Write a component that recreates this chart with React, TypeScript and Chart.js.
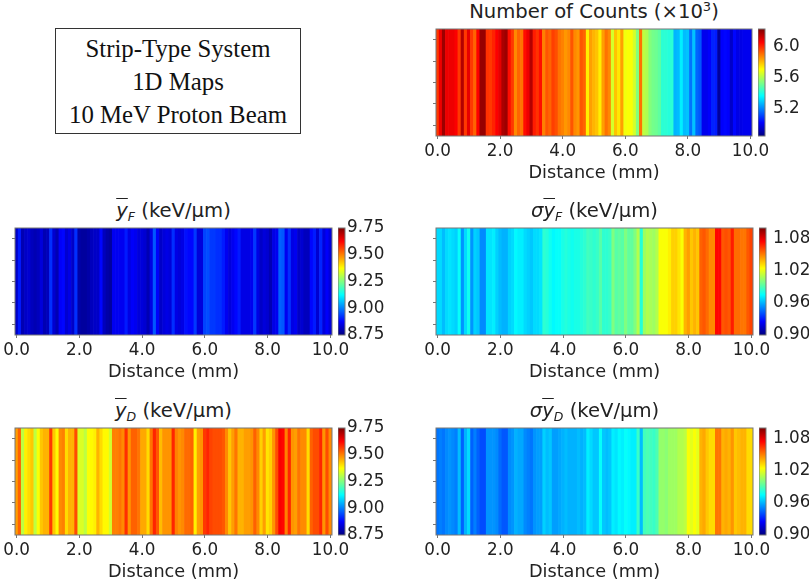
import { Chart, registerables } from 'chart.js';
import { useEffect, useRef } from 'react';

Chart.register(...registerables);

// bin centres along the strip, 0.1 mm apart
const distance = Array.from({ length: 101 }, (_, i) => (i / 10).toFixed(1));
const distanceTicks = ['0.0', '2.0', '4.0', '6.0', '8.0', '10.0'];
const rowTicks = [0.1, 0.3, 0.5, 0.7, 0.9];

const counts = [
  5.98, 6.08, 6.19, 6.08, 6.08, 6.08, 6.06, 5.98, 6.16, 5.98,
  6.09, 5.98, 5.92, 6.06, 6.2, 6.2, 5.99, 5.98, 6.01, 6.06,
  6.09, 6.17, 6.19, 6.04, 5.98, 5.87, 5.92, 5.9, 6.04, 6.08,
  6.16, 6.02, 5.99, 6.04, 5.88, 5.94, 5.92, 5.97, 5.95, 5.9,
  5.88, 5.85, 5.87, 5.94, 5.87, 5.85, 5.94, 5.92, 5.73, 5.84,
  5.81, 5.79, 5.73, 5.84, 5.9, 5.87, 5.65, 5.79, 5.74, 5.84,
  5.69, 5.7, 5.7, 5.65, 5.54, 5.9, 5.62, 5.6, 5.54, 5.52,
  5.51, 5.49, 5.42, 5.42, 5.41, 5.42, 5.26, 5.27, 5.34, 5.27,
  5.28, 5.17, 5.28, 5.15, 5.13, 4.99, 4.99, 5.01, 5.06, 5.05,
  4.88, 5.01, 5.02, 5.01, 4.94, 5.02, 4.98, 4.98, 4.99, 4.99, 4.99,
];
const yF = [
  8.82, 8.9, 8.8, 8.82, 8.83, 8.81, 8.8, 8.81, 8.84, 8.8,
  8.81, 8.92, 8.83, 8.8, 8.87, 8.88, 8.83, 8.85, 8.82, 8.92,
  8.79, 8.78, 8.78, 8.79, 8.81, 8.82, 8.82, 8.88, 8.81, 8.79,
  8.78, 8.86, 8.86, 8.86, 8.86, 8.9, 8.85, 8.87, 8.86, 8.84,
  8.84, 8.83, 8.8, 8.85, 8.96, 8.87, 8.82, 8.84, 8.85, 8.84,
  8.92, 8.85, 8.84, 8.85, 8.89, 8.88, 8.88, 8.93, 8.84, 8.84,
  8.94, 8.95, 8.93, 8.93, 8.92, 8.92, 8.9, 8.86, 8.84, 8.86,
  8.88, 8.9, 8.85, 8.85, 8.85, 8.86, 8.93, 8.85, 8.82, 8.84,
  8.83, 8.8, 8.85, 8.86, 8.97, 8.96, 8.86, 8.92, 8.85, 8.86,
  8.82, 8.83, 8.81, 8.81, 8.88, 8.9, 8.83, 8.91, 8.84, 8.87, 8.84,
];
const yD = [
  9.47, 9.53, 9.31, 9.39, 9.41, 9.43, 9.31, 9.37, 9.43, 9.45,
  9.45, 9.57, 9.43, 9.38, 9.49, 9.5, 9.41, 9.45, 9.45, 9.55,
  9.34, 9.34, 9.31, 9.37, 9.38, 9.39, 9.45, 9.41, 9.38, 9.38,
  9.33, 9.5, 9.5, 9.51, 9.49, 9.58, 9.48, 9.53, 9.53, 9.51,
  9.46, 9.46, 9.41, 9.51, 9.59, 9.54, 9.44, 9.48, 9.48, 9.48,
  9.59, 9.5, 9.48, 9.49, 9.52, 9.52, 9.53, 9.39, 9.47, 9.48,
  9.57, 9.59, 9.56, 9.55, 9.55, 9.55, 9.54, 9.49, 9.43, 9.47,
  9.51, 9.45, 9.45, 9.47, 9.47, 9.48, 9.53, 9.49, 9.42, 9.47,
  9.4, 9.42, 9.48, 9.55, 9.63, 9.62, 9.5, 9.59, 9.48, 9.47,
  9.51, 9.49, 9.49, 9.41, 9.53, 9.55, 9.55, 9.59, 9.48, 9.55, 9.49,
];
const sigmaF = [
  0.968, 0.968, 0.962, 0.968, 0.97, 0.968, 0.966, 0.976, 0.954, 0.968,
  0.978, 0.954, 0.966, 0.964, 0.952, 0.952, 0.97, 0.97, 0.972, 0.966,
  0.962, 0.96, 0.96, 0.966, 0.968, 0.974, 0.972, 0.972, 0.968, 0.966,
  0.964, 0.968, 0.968, 0.97, 0.984, 0.982, 0.978, 0.974, 0.976, 0.976,
  0.98, 0.982, 0.98, 0.978, 0.98, 0.98, 0.982, 0.984, 0.988, 0.986,
  0.984, 0.986, 0.992, 0.984, 0.984, 0.986, 1.0, 0.992, 0.994, 0.992,
  1.0, 0.994, 0.994, 1.0, 1.01, 0.982, 1.006, 1.01, 1.008, 1.006,
  1.01, 1.024, 1.024, 1.024, 1.028, 1.034, 1.034, 1.03, 1.024, 1.04,
  1.044, 1.036, 1.04, 1.036, 1.056, 1.058, 1.054, 1.048, 1.048, 1.074,
  1.074, 1.058, 1.06, 1.058, 1.07, 1.054, 1.054, 1.052, 1.052, 1.058, 1.062,
];
const sigmaD = [
  0.948, 0.95, 0.948, 0.952, 0.954, 0.952, 0.95, 0.962, 0.944, 0.96,
  0.968, 0.944, 0.95, 0.944, 0.94, 0.94, 0.954, 0.954, 0.954, 0.952,
  0.946, 0.942, 0.942, 0.952, 0.954, 0.96, 0.958, 0.958, 0.952, 0.95,
  0.948, 0.954, 0.956, 0.956, 0.966, 0.962, 0.964, 0.956, 0.956, 0.958,
  0.96, 0.962, 0.96, 0.96, 0.96, 0.962, 0.96, 0.962, 0.972, 0.968,
  0.964, 0.964, 0.976, 0.964, 0.962, 0.964, 0.972, 0.97, 0.974, 0.972,
  0.976, 0.974, 0.972, 0.972, 0.986, 0.962, 0.988, 0.99, 0.988, 0.986,
  0.99, 1.004, 1.004, 1.002, 1.006, 1.006, 1.006, 1.01, 1.01, 1.012,
  1.024, 1.02, 1.024, 1.02, 1.04, 1.042, 1.036, 1.032, 1.032, 1.052,
  1.052, 1.04, 1.042, 1.04, 1.046, 1.036, 1.038, 1.04, 1.04, 1.032, 1.032,
];

const countsTicks = [5.2, 5.6, 6.0];
const meanTicks = [8.75, 9.0, 9.25, 9.5, 9.75];
const sigmaTicks = [0.9, 0.96, 1.02, 1.08];

const FONT = '"DejaVu Sans"';
const INK = '#222';
const SPINE = '#777';
const SOFT = 'blur(0.4px)'; // the source is a resampled raster

// matplotlib's jet, as its usual piecewise ramps
const ramp = (t: number) => Math.round(255 * Math.min(1, Math.max(0, t)));
const jet = (t: number) => {
  const r = ramp(Math.min(4 * t - 1.5, -4 * t + 4.5));
  const g = ramp(Math.min(4 * t - 0.5, -4 * t + 3.5));
  const b = ramp(Math.min(4 * t + 0.5, -4 * t + 2.5));
  return `rgb(${r},${g},${b})`;
};

const frame = {
  id: 'frame',
  afterDraw(chart: Chart) {
    const { ctx, chartArea: a } = chart;
    ctx.save();
    ctx.strokeStyle = SPINE;
    ctx.lineWidth = 1;
    ctx.strokeRect(a.left, a.top, a.right - a.left, a.bottom - a.top);
    ctx.restore();
  },
};

type PanelProps = {
  title: React.ReactNode;
  values: number[];
  vmin: number;
  vmax: number;
  ticks: number[];
  digits: number;
  left: number;
  top: number;
  width: number;
  barLeft: number;
  titleTop: number;
  labelGap: number;
};

const HEIGHT = 107;
const AXIS_HEIGHT = 48;

function Strip({ values, vmin, vmax, left, top, width }: PanelProps) {
  const ref = useRef<HTMLCanvasElement>(null);

  useEffect(() => {
    if (!ref.current) return;
    const chart = new Chart(ref.current, {
      type: 'bar',
      data: {
        labels: distance,
        datasets: [
          {
            data: values.map(() => 1),
            backgroundColor: values.map((v) => jet((v - vmin) / (vmax - vmin))),
            borderWidth: 0,
            barPercentage: 1,
            categoryPercentage: 1,
          },
        ],
      },
      options: {
        animation: false,
        responsive: false,
        layout: { autoPadding: false, padding: { top: 2, right: 30 } },
        plugins: { legend: { display: false }, tooltip: { enabled: false } },
        scales: {
          x: {
            afterFit: (s) => {
              s.height = AXIS_HEIGHT;
            },
            afterBuildTicks: (s) => {
              s.ticks = distanceTicks.map((label) => ({ value: distance.indexOf(label) }));
            },
            grid: { display: true, drawOnChartArea: false, offset: false, color: SPINE, tickLength: 3 },
            border: { display: false },
            ticks: {
              autoSkip: false,
              maxRotation: 0,
              padding: 3,
              color: INK,
              font: { family: FONT, size: 16.8 },
            },
            title: {
              display: true,
              text: 'Distance (mm)',
              color: INK,
              padding: { top: 1, bottom: 0 },
              font: { family: FONT, size: 17.7 },
            },
          },
          y: {
            min: 0,
            max: 1,
            afterFit: (s) => {
              s.width = 30;
            },
            afterBuildTicks: (s) => {
              s.ticks = rowTicks.map((value) => ({ value }));
            },
            grid: { display: true, drawOnChartArea: false, color: SPINE, tickLength: 3 },
            border: { display: false },
            ticks: { display: false },
          },
        },
      },
      plugins: [frame],
    });
    return () => chart.destroy();
  }, [values, vmin, vmax]);

  return (
    <canvas
      ref={ref}
      width={width + 60}
      height={HEIGHT + 2 + AXIS_HEIGHT}
      style={{ position: 'absolute', left: left - 30, top: top - 2, filter: SOFT }}
    />
  );
}

function ColorBar({ vmin, vmax, ticks, digits, top, barLeft, labelGap }: PanelProps) {
  const ref = useRef<HTMLCanvasElement>(null);

  useEffect(() => {
    if (!ref.current) return;
    const chart = new Chart(ref.current, {
      type: 'bar',
      data: {
        labels: ['scale'],
        datasets: [
          {
            data: [[vmin, vmax]],
            borderWidth: 0,
            barPercentage: 1,
            categoryPercentage: 1,
            backgroundColor: (c: any) => {
              const a = c.chart.chartArea;
              if (!a) return 'transparent';
              const g = c.chart.ctx.createLinearGradient(0, a.bottom, 0, a.top);
              for (let i = 0; i <= 32; i++) g.addColorStop(i / 32, jet(i / 32));
              return g;
            },
          },
        ],
      },
      options: {
        animation: false,
        responsive: false,
        layout: { autoPadding: false, padding: { top: 12, bottom: 12 } },
        plugins: { legend: { display: false }, tooltip: { enabled: false } },
        scales: {
          x: { display: false },
          y: {
            position: 'right',
            min: vmin,
            max: vmax,
            afterFit: (s) => {
              s.width = 100;
            },
            afterBuildTicks: (s) => {
              s.ticks = ticks.map((value) => ({ value }));
            },
            // the gap to the labels comes from an invisible tick mark
            grid: { display: true, drawOnChartArea: false, color: 'transparent', tickLength: labelGap - 1 },
            border: { display: false },
            ticks: {
              padding: 1,
              color: INK,
              font: { family: FONT, size: 16.8 },
              callback: (v) => Number(v).toFixed(digits),
            },
          },
        },
      },
      plugins: [frame],
    });
    return () => chart.destroy();
  }, [vmin, vmax, ticks, digits, labelGap]);

  return (
    <canvas
      ref={ref}
      width={107}
      height={HEIGHT + 24}
      style={{ position: 'absolute', left: barLeft, top: top - 12, filter: SOFT }}
    />
  );
}

function Panel(props: PanelProps) {
  const { title, left, width, titleTop } = props;
  return (
    <>
      <div
        style={{
          position: 'absolute',
          left,
          width,
          top: titleTop,
          textAlign: 'center',
          fontFamily: FONT,
          fontSize: 19.6,
          lineHeight: '22px',
          color: INK,
          whiteSpace: 'nowrap',
        }}
      >
        {title}
      </div>
      <Strip {...props} />
      <ColorBar {...props} />
    </>
  );
}

const subStyle = { fontSize: 12.5, fontStyle: 'italic', position: 'relative', top: 4 } as const;
const barY = { fontStyle: 'italic', textDecoration: 'overline' } as const;

const MeanTitle = ({ sub, sigma }: { sub: string; sigma?: boolean }) => (
  <>
    {sigma && <span style={{ fontStyle: 'italic' }}>σ</span>}
    <span style={barY}>y</span>
    <span style={subStyle}>{sub}</span> (keV/µm)
  </>
);

export default function App() {
  return (
    <div style={{ position: 'absolute', left: 0, top: 0, width: 809, height: 582, overflow: 'hidden', background: '#fff' }}>
      <div
        style={{
          position: 'absolute',
          left: 55,
          top: 28,
          width: 246,
          height: 106,
          border: '1.5px solid #333',
          fontFamily: '"Liberation Serif"',
          fontSize: 24.8,
          lineHeight: '33.3px',
          textAlign: 'center',
          color: '#111',
          paddingTop: 2.5,
          boxSizing: 'border-box',
        }}
      >
        Strip-Type System
        <br />
        1D Maps
        <br />
        10 MeV Proton Beam
      </div>
      <Panel
        title={
          <>
            Number of Counts (×10
            <span style={{ fontSize: 13, position: 'relative', top: -7 }}>3</span>)
          </>
        }
        values={counts}
        vmin={4.84}
        vmax={6.23}
        ticks={countsTicks}
        digits={1}
        left={436}
        top={29}
        width={316}
        barLeft={758}
        titleTop={1}
        labelGap={8}
      />
      <Panel
        title={<MeanTitle sub="F" />}
        values={yF}
        vmin={8.75}
        vmax={9.75}
        ticks={meanTicks}
        digits={2}
        left={15}
        top={228}
        width={317}
        barLeft={338}
        titleTop={200}
        labelGap={2}
      />
      <Panel
        title={<MeanTitle sub="F" sigma />}
        values={sigmaF}
        vmin={0.9}
        vmax={1.1}
        ticks={sigmaTicks}
        digits={2}
        left={436}
        top={228}
        width={317}
        barLeft={759}
        titleTop={200}
        labelGap={7}
      />
      <Panel
        title={<MeanTitle sub="D" />}
        values={yD}
        vmin={8.75}
        vmax={9.75}
        ticks={meanTicks}
        digits={2}
        left={15}
        top={428}
        width={317}
        barLeft={338}
        titleTop={400}
        labelGap={2}
      />
      <Panel
        title={<MeanTitle sub="D" sigma />}
        values={sigmaD}
        vmin={0.9}
        vmax={1.1}
        ticks={sigmaTicks}
        digits={2}
        left={436}
        top={428}
        width={317}
        barLeft={759}
        titleTop={400}
        labelGap={7}
      />
    </div>
  );
}
